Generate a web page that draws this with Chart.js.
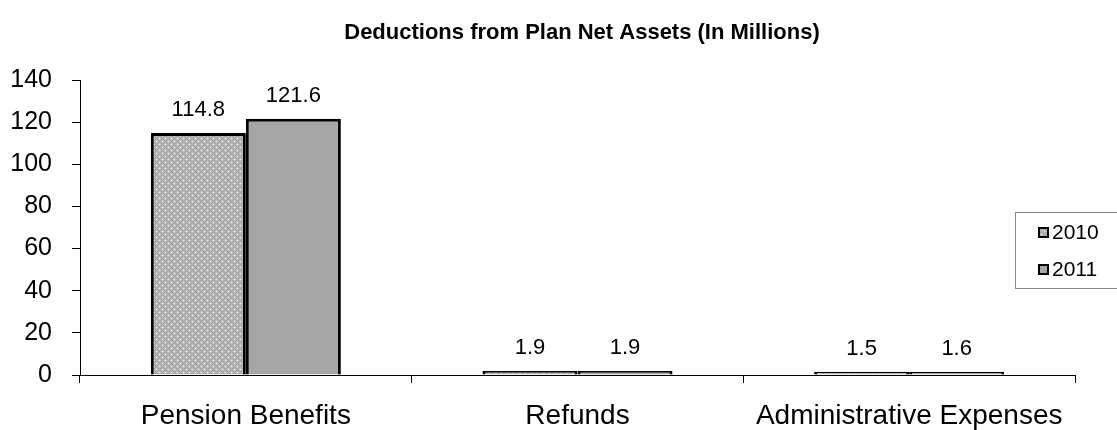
<!DOCTYPE html>
<html>
<head>
<meta charset="utf-8">
<script src="https://cdn.jsdelivr.net/npm/chart.js@4"></script>
<style>
  body { margin: 0; background: #fff; }
</style>
</head>
<body>
<canvas id="deductionsChart" width="1117" height="430"></canvas>
<script>
const categories = ['Pension Benefits', 'Refunds', 'Administrative Expenses'];
const years = ['2010', '2011'];
const values2010 = [114.8, 1.9, 1.5];
const values2011 = [121.6, 1.9, 1.6];
const yTicks = [0, 20, 40, 60, 80, 100, 120, 140];

const FONT = 'Arial, "Liberation Sans", sans-serif';

// crosshatch fill for 2010
function hatch() {
  const c = document.createElement('canvas');
  c.width = 6; c.height = 6;
  const g = c.getContext('2d');
  g.fillStyle = '#bdbdbd';
  g.fillRect(0, 0, 6, 6);
  g.fillStyle = '#9a9a9a';
  g.fillRect(0, 0, 1, 1); g.fillRect(3, 3, 1, 1);
  g.fillRect(1, 1, 1, 1); g.fillRect(2, 2, 1, 1);
  g.fillRect(4, 4, 1, 1); g.fillRect(5, 5, 1, 1);
  g.fillRect(5, 1, 1, 1); g.fillRect(4, 2, 1, 1);
  g.fillRect(2, 4, 1, 1); g.fillRect(1, 5, 1, 1);
  g.fillStyle = '#ececec';
  g.fillRect(3, 0, 1, 1); g.fillRect(0, 3, 1, 1);
  return g.createPattern(c, 'repeat');
}
const hatchFill = hatch();

const valueLabels = {
  id: 'valueLabels',
  afterDatasetsDraw(chart) {
    const ctx = chart.ctx;
    ctx.save();
    ctx.font = '22px ' + FONT;
    ctx.fillStyle = '#000';
    ctx.textAlign = 'center';
    ctx.textBaseline = 'alphabetic';
    chart.data.datasets.forEach((ds, i) => {
      chart.getDatasetMeta(i).data.forEach((bar, j) => {
        ctx.fillText(ds.data[j].toFixed(1), bar.x, bar.y - 17);
      });
    });
    ctx.restore();
  }
};

const titleAndLegend = {
  id: 'titleAndLegend',
  afterDraw(chart) {
    const ctx = chart.ctx;
    ctx.save();
    ctx.font = 'bold 22px ' + FONT;
    ctx.fillStyle = '#000';
    ctx.textAlign = 'center';
    ctx.textBaseline = 'middle';
    ctx.fillText('Deductions from Plan Net Assets (In Millions)', 582, 33);

    // legend box
    ctx.strokeStyle = '#888';
    ctx.lineWidth = 1;
    ctx.strokeRect(1015.5, 212.5, 110, 76);
    ctx.font = '21px ' + FONT;
    ctx.textAlign = 'left';
    chart.data.datasets.forEach((ds, i) => {
      const y = 232 + i * 37;
      ctx.fillStyle = ds.backgroundColor;
      ctx.fillRect(1039, y - 4, 9, 9);
      ctx.strokeStyle = '#000';
      ctx.lineWidth = 2;
      ctx.strokeRect(1039, y - 4, 9, 9);
      ctx.fillStyle = '#000';
      ctx.fillText(ds.label, 1052, y + 1);
    });
    ctx.restore();
  }
};

new Chart(document.getElementById('deductionsChart'), {
  type: 'bar',
  data: {
    labels: categories,
    datasets: [{
      label: years[0],
      data: values2010,
      backgroundColor: hatchFill,
      borderColor: '#000',
      borderWidth: 3
    }, {
      label: years[1],
      data: values2011,
      backgroundColor: '#a6a6a6',
      borderColor: '#000',
      borderWidth: 3
    }]
  },
  options: {
    responsive: false,
    animation: false,
    layout: { padding: { top: 80, right: 42, left: 0, bottom: 0 } },
    datasets: {
      bar: { barPercentage: 1, categoryPercentage: 0.573 }
    },
    plugins: {
      legend: { display: false },
      title: { display: false },
      tooltip: { enabled: false }
    },
    scales: {
      x: {
        afterFit(scale) { scale.height = 55; },
        border: { color: '#000', width: 1 },
        grid: { offset: true, drawOnChartArea: false, color: '#000', tickLength: 8 },
        ticks: { color: '#000', font: { family: FONT, size: 28 }, padding: 16, maxRotation: 0, autoSkip: false }
      },
      y: {
        min: 0,
        max: 140,
        afterFit(scale) { scale.width = 80; },
        afterBuildTicks(scale) { scale.ticks = yTicks.map(v => ({ value: v })); },
        border: { color: '#000', width: 1 },
        grid: { drawOnChartArea: false, color: '#000', tickLength: 8 },
        ticks: { color: '#000', font: { family: FONT, size: 25 }, padding: 20 }
      }
    }
  },
  plugins: [valueLabels, titleAndLegend]
});
</script>
</body>
</html>
